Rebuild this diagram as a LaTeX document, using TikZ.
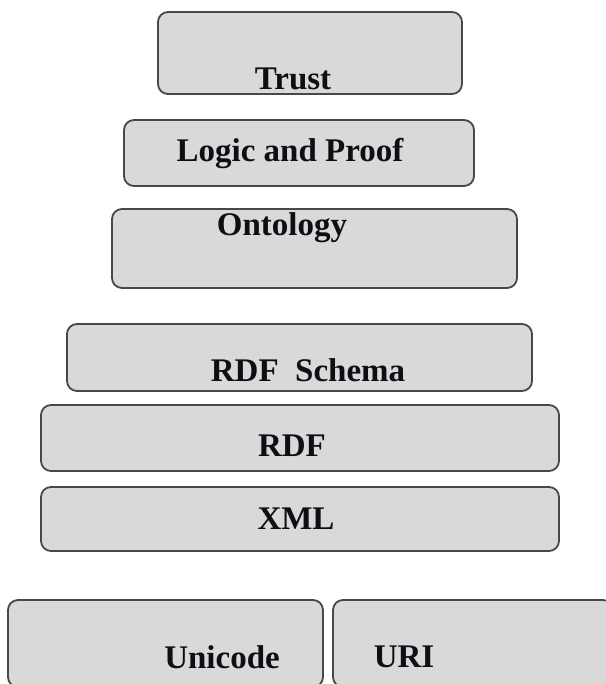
\documentclass[tikz,border=0pt]{standalone}
\usepackage{fontspec}
\setmainfont{Liberation Serif}
\definecolor{boxfill}{HTML}{D9D9D9}
\definecolor{boxline}{HTML}{484848}
\definecolor{txt}{HTML}{0E0E14}
\begin{document}
\begin{tikzpicture}[x=1pt,y=-1pt,
  layer/.style={draw=boxline, fill=boxfill, line width=1.8pt, rounded corners=10pt,
    rectangle, inner sep=0pt, outer sep=0pt},
  lbl/.style={anchor=base, inner sep=0pt, text=txt,
    font=\fontsize{33}{37}\selectfont\bfseries}]
\useasboundingbox (0,0) rectangle (605,684);
\fill[white] (0,0) rectangle (605,684);
% boxes
\node[layer, minimum width=304pt, minimum height=82pt] (trust) at (310,53) {};
\node[layer, minimum width=350pt, minimum height=66pt] (logic) at (299,153) {};
\node[layer, minimum width=405pt, minimum height=79pt] (onto) at (314.5,248.5) {};
\node[layer, minimum width=465pt, minimum height=67pt] (rdfs) at (299.5,357.5) {};
\node[layer, minimum width=518pt, minimum height=66pt] (rdf) at (300,438) {};
\node[layer, minimum width=518pt, minimum height=64pt] (xml) at (300,519) {};
\node[layer, minimum width=315pt, minimum height=87pt] (unicode) at (165.5,643.5) {};
\node[layer, minimum width=280pt, minimum height=87pt] (uri) at (473,643.5) {};
% labels
\node[lbl] (trustlbl) at (293,90) {Trust};
\node[lbl] (logiclbl) at (290,162) {Logic and Proof};
\node[lbl] (ontolbl) at (282,236) {Ontology};
\node[lbl] (rdfslbl) at (308,381) {RDF\ \ Schema};
\node[lbl] (rdflbl) at (292,456) {RDF};
\node[lbl] (xmllbl) at (296,529) {XML};
\node[lbl] (unicodelbl) at (222,668) {Unicode};
\node[lbl] (urilbl) at (404,667) {URI};
\end{tikzpicture}
\end{document}
